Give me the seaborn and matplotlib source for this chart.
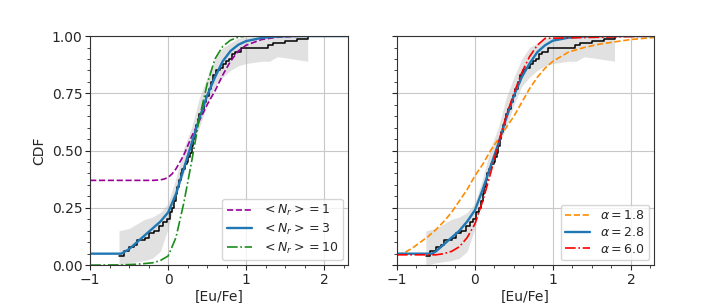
import numpy as np
import matplotlib
matplotlib.use("Agg")
import matplotlib.pyplot as plt
import seaborn as sns
from matplotlib.ticker import MultipleLocator

# ==========================================
# Data
# ==========================================

# observed [Eu/Fe] empirical CDF (step line)
ecdf_x = [-0.63, -0.57, -0.50, -0.44, -0.40, -0.36, -0.30, -0.24, -0.18, -0.12,
          -0.06, -0.02, 0.02, 0.05, 0.08, 0.10, 0.12, 0.14, 0.16, 0.18,
          0.21, 0.24, 0.26, 0.28, 0.30, 0.32, 0.34, 0.36, 0.38, 0.40,
          0.43, 0.46, 0.49, 0.52, 0.55, 0.58, 0.61, 0.66, 0.70, 0.74,
          0.78, 0.82, 0.86, 0.94, 1.28, 1.35, 1.50, 1.65, 1.79]
ecdf_y = [0.04, 0.06, 0.08, 0.09, 0.11, 0.11, 0.12, 0.14, 0.15, 0.17,
          0.19, 0.20, 0.23, 0.25, 0.28, 0.31, 0.34, 0.37, 0.40, 0.42,
          0.44, 0.45, 0.47, 0.49, 0.52, 0.55, 0.58, 0.61, 0.64, 0.66,
          0.68, 0.71, 0.74, 0.77, 0.80, 0.83, 0.85, 0.86, 0.88, 0.89,
          0.90, 0.92, 0.93, 0.95, 0.96, 0.97, 0.98, 0.985, 1.00]

# uncertainty band around the empirical CDF
band_x = [-0.63, -0.5, -0.4, -0.3, -0.2, -0.1, 0.0, 0.1, 0.2, 0.3, 0.4,
          0.5, 0.6, 0.7, 0.8, 0.9, 1.0, 1.2, 1.3, 1.4, 1.6, 1.79]
band_lo = [0.0, 0.01, 0.015, 0.02, 0.03, 0.06, 0.16, 0.30, 0.40, 0.52, 0.60,
           0.70, 0.78, 0.82, 0.85, 0.87, 0.88, 0.89, 0.89, 0.91, 0.90, 0.89]
band_hi = [0.15, 0.16, 0.18, 0.20, 0.21, 0.23, 0.27, 0.38, 0.51, 0.60, 0.73,
           0.82, 0.90, 0.95, 0.97, 0.99, 0.995, 1.0, 1.0, 1.0, 1.0, 1.0]

# left panel: models with different <N_r>
nr1_x = [-1, -0.2, -0.1, -0.05, 0, 0.05, 0.1, 0.2, 0.3, 0.4, 0.5, 0.6, 0.7, 0.8, 0.9, 1.0, 1.2, 1.4, 1.7, 2.3]
nr1_y = [0.37, 0.37, 0.372, 0.376, 0.383, 0.398, 0.42, 0.48, 0.56, 0.63, 0.70, 0.76, 0.83, 0.89, 0.935, 0.96, 0.985, 0.995, 1.0, 1.0]

nr3_x = [-1, -0.6, -0.5, -0.4, -0.3, -0.2, -0.1, 0, 0.1, 0.2, 0.3, 0.4,
         0.5, 0.6, 0.7, 0.8, 0.9, 1.0, 1.2, 1.4, 1.6, 2.3]
nr3_y = [0.05, 0.05, 0.07, 0.10, 0.13, 0.16, 0.19, 0.23, 0.31, 0.42, 0.53, 0.64,
         0.74, 0.82, 0.89, 0.935, 0.962, 0.978, 0.992, 0.998, 1.0, 1.0]

nr10_x = [-1, -0.6, -0.4, -0.2, -0.1, 0, 0.1, 0.2, 0.3, 0.4, 0.5, 0.6, 0.7, 0.8, 0.9, 1.0, 2.3]
nr10_y = [0.0, 0.001, 0.004, 0.01, 0.02, 0.04, 0.12, 0.27, 0.45, 0.64, 0.79, 0.90, 0.955, 0.982, 0.995, 1.0, 1.0]

# right panel: models with different alpha
a18_x = [-1, -0.9, -0.8, -0.7, -0.6, -0.5, -0.4, -0.3, -0.2, -0.1, 0, 0.1, 0.2, 0.3,
         0.4, 0.5, 0.6, 0.7, 0.8, 0.9, 1.0, 1.2, 1.4, 1.6, 1.8, 2.0, 2.3]
a18_y = [0.045, 0.055, 0.075, 0.10, 0.125, 0.155, 0.19, 0.23, 0.28, 0.33, 0.39, 0.44, 0.50, 0.55,
         0.60, 0.65, 0.71, 0.77, 0.82, 0.86, 0.89, 0.93, 0.95, 0.965, 0.975, 0.985, 0.994]

a28_x = [-1, -0.55, -0.5, -0.4, -0.3, -0.2, -0.1, 0, 0.1, 0.2, 0.3, 0.4,
         0.5, 0.6, 0.7, 0.8, 0.9, 1.0, 1.2, 1.4, 1.6, 2.3]
a28_y = [0.05, 0.05, 0.06, 0.09, 0.12, 0.15, 0.19, 0.24, 0.33, 0.43, 0.53, 0.64,
         0.74, 0.82, 0.88, 0.93, 0.96, 0.98, 0.993, 0.998, 1.0, 1.0]

a60_x = [-1, -0.5, -0.4, -0.3, -0.2, -0.1, 0, 0.1, 0.2, 0.3, 0.4, 0.5, 0.6, 0.7, 0.8, 0.9, 2.3]
a60_y = [0.045, 0.045, 0.05, 0.06, 0.08, 0.12, 0.18, 0.28, 0.40, 0.53, 0.65, 0.75, 0.84, 0.91, 0.96, 0.99, 1.0]

# ==========================================
# Plot
# ==========================================

sns.set_style("ticks")
plt.rcParams["font.family"] = ["DejaVu Sans"]
plt.rcParams["font.size"] = 10
plt.rcParams["mathtext.fontset"] = "dejavusans"

fig = plt.figure(figsize=(7.27, 3.03), dpi=100)
ax1 = fig.add_axes([0.124, 0.125, 0.354, 0.756])
ax2 = fig.add_axes([0.546, 0.125, 0.354, 0.756])

models = [
    (ax1, [(nr1_x, nr1_y, "#990099", "--", 1.2, r"$<N_r> = 1$"),
           (nr3_x, nr3_y, "#1f77b4", "-", 1.7, r"$<N_r> = 3$"),
           (nr10_x, nr10_y, "#1a8c1a", "-.", 1.2, r"$<N_r> = 10$")]),
    (ax2, [(a18_x, a18_y, "darkorange", "--", 1.2, r"$\alpha = 1.8$"),
           (a28_x, a28_y, "#1f77b4", "-", 1.7, r"$\alpha = 2.8$"),
           (a60_x, a60_y, "red", "-.", 1.2, r"$\alpha = 6.0$")]),
]

for ax, curves in models:
    ax.fill_between(band_x, band_lo, band_hi, color="#bdbdbd", alpha=0.45, lw=0)
    sns.lineplot(x=ecdf_x, y=ecdf_y, ax=ax, color="black", lw=1.1,
                 drawstyle="steps-post", sort=False)
    for cx, cy, col, ls, lw, lab in curves:
        sns.lineplot(x=cx, y=cy, ax=ax, color=col, linestyle=ls, lw=lw, label=lab, sort=False)

    ax.set_xlim(-1, 2.3)
    ax.set_ylim(0, 1)
    ax.xaxis.set_major_locator(MultipleLocator(1))
    ax.xaxis.set_minor_locator(MultipleLocator(0.25))
    ax.yaxis.set_major_locator(MultipleLocator(0.25))
    ax.yaxis.set_minor_locator(MultipleLocator(0.05))
    ax.grid(True, which="major", color="#c8c8c8", lw=0.8)
    ax.tick_params(which="major", length=3.5, width=0.8, labelsize=10, pad=2)
    ax.tick_params(which="minor", length=2, width=0.6)
    for s in ax.spines.values():
        s.set_visible(True)
        s.set_color("#333333")
        s.set_linewidth(0.8)
    ax.set_xlabel("[Eu/Fe]", fontsize=10, labelpad=2)
    ax.legend(loc="lower right", fontsize=9, handlelength=2.0, labelspacing=0.3,
              borderpad=0.35, borderaxespad=0.4, handletextpad=0.8, framealpha=0.8)

ax1.set_ylabel("CDF", fontsize=10)
ax1.yaxis.set_major_formatter(plt.FormatStrFormatter("%.2f"))
ax2.set_ylabel("")
ax2.set_yticklabels([])

plt.savefig("out.png", dpi=100)
